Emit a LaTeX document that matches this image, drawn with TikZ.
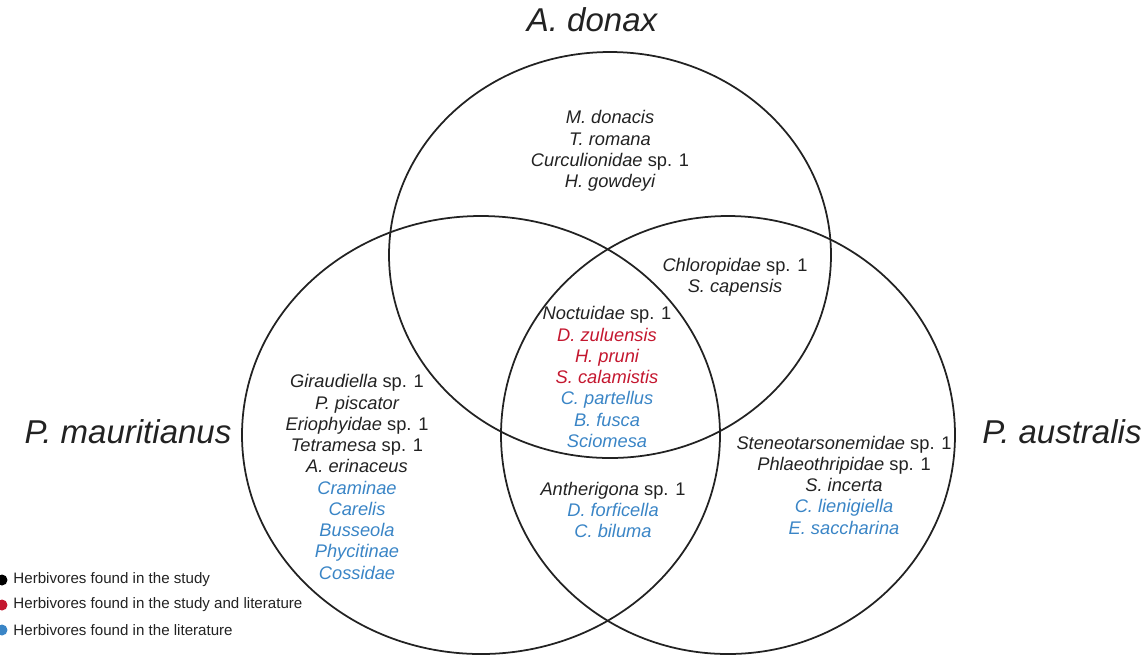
\documentclass[tikz,border=0pt]{standalone}
\usepackage{fontspec}
\setmainfont{Liberation Sans}
\usepackage{tikz}
\usetikzlibrary{positioning}
\definecolor{inkgray}{HTML}{222222}
\definecolor{bothred}{HTML}{C4172F}
\definecolor{litblue}{HTML}{3A85C6}
\newcommand{\taxafont}{\fontsize{10.4}{12.1}\selectfont\itshape}
\newcommand{\hostfont}{\fontsize{18.8}{22}\selectfont\itshape}
\newcommand{\keyfont}{\fontsize{8.6}{10}\selectfont}
\newcommand{\spn}[1]{#1 \textup{sp. 1}}

\begin{document}
\begin{tikzpicture}[x=0.02cm,y=-0.02cm,
  taxa/.style={align=center,font=\taxafont,text=inkgray,inner sep=0pt},
  host/.style={font=\hostfont,text=inkgray,inner sep=0pt},
  key/.style={font=\keyfont,text=inkgray,anchor=west,inner sep=0pt},
  keydot/.style={circle,inner sep=0pt,minimum size=0.22cm},
  set/.style={draw=inkgray,line width=1pt}]
  \useasboundingbox (0,0) rectangle (1145,654);
  % the three host plants
  \draw[set] (610,255) ellipse [x radius=221, y radius=203];
  \draw[set] (481,435) ellipse [x radius=239, y radius=219];
  \draw[set] (728,435) ellipse [x radius=227, y radius=219];
  \node[host] (donax) at (592,20) {A. donax};
  \node[host] (mauri) at (128,432) {P. mauritianus};
  \node[host] (austr) at (1062,432) {P. australis};
  % herbivores in each region
  \node[taxa] (onlyd) at (610,151) {M. donacis\\T. romana\\\spn{Curculionidae}\\H. gowdeyi};
  \node[taxa] (da) at (735,277) {\spn{Chloropidae}\\S. capensis};
  \node[taxa] (all) at (607,377) {\spn{Noctuidae}\\{\color{bothred}D. zuluensis}\\{\color{bothred}H. pruni}\\{\color{bothred}S. calamistis}\\{\color{litblue}C. partellus}\\{\color{litblue}B. fusca}\\{\color{litblue}Sciomesa}};
  \node[taxa] (onlym) at (357,477) {\spn{Giraudiella}\\P. piscator\\\spn{Eriophyidae}\\\spn{Tetramesa}\\A. erinaceus\\{\color{litblue}Craminae}\\{\color{litblue}Carelis}\\{\color{litblue}Busseola}\\{\color{litblue}Phycitinae}\\{\color{litblue}Cossidae}};
  \node[taxa] (ma) at (613,510) {\spn{Antherigona}\\{\color{litblue}D. forficella}\\{\color{litblue}C. biluma}};
  \node[taxa] (onlya) at (844,485) {\spn{Steneotarsonemidae}\\\spn{Phlaeothripidae}\\S. incerta\\{\color{litblue}C. lienigiella}\\{\color{litblue}E. saccharina}};
  % key
  \node[keydot,fill=black] (kstudy) at (2,580) {};
  \node[keydot,fill=bothred] (kboth) at (2,605) {};
  \node[keydot,fill=litblue] (klit) at (2,630) {};
  \node[key,right=3pt of kstudy] (tstudy) {Herbivores found in the study};
  \node[key,right=3pt of kboth] (tboth) {Herbivores found in the study and literature};
  \node[key,right=3pt of klit] (tlit) {Herbivores found in the literature};
\end{tikzpicture}
\end{document}
